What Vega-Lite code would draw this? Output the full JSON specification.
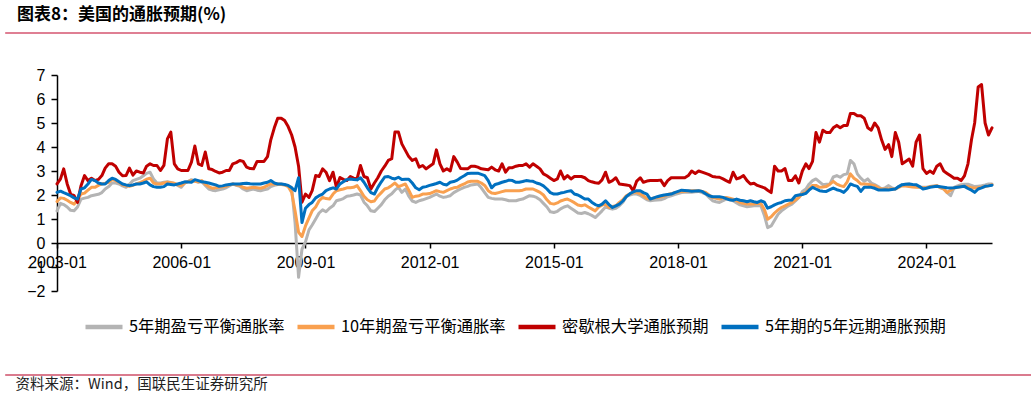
{
"$schema":"https://vega.github.io/schema/vega-lite/v6.json",
"width":935,"height":216,
"autosize":{"type":"none"},
"padding":{"left":57,"top":75,"right":39,"bottom":107},
"background":"white",
"title":{"text":"图表8：美国的通胀预期(%)","anchor":"start","frame":"group","dx":-40,"offset":8,"font":"Noto Sans CJK SC","fontSize":17,"fontWeight":"bold","color":"#000"},
"config":{"view":{"stroke":null},"axis":{"labelFont":"Liberation Sans"}},
"data":{"values":[
{"d":"2003-01","g":1.34,"o":1.73,"r":2.46,"b":2.11},{"d":"2003-02","g":1.65,"o":1.88,"r":2.67,"b":2.16},{"d":"2003-03","g":1.6,"o":1.86,"r":3.09,"b":2.1},{"d":"2003-04","g":1.5,"o":1.78,"r":2.46,"b":2.04},{"d":"2003-05","g":1.36,"o":1.69,"r":2.04,"b":1.97},{"d":"2003-06","g":1.34,"o":1.62,"r":1.97,"b":1.88},{"d":"2003-07","g":1.5,"o":1.8,"r":1.69,"b":1.83},{"d":"2003-08","g":1.83,"o":2.04,"r":2.39,"b":2.25},{"d":"2003-09","g":1.87,"o":2.08,"r":2.81,"b":2.3},{"d":"2003-10","g":1.9,"o":2.2,"r":2.6,"b":2.46},{"d":"2003-11","g":1.97,"o":2.32,"r":2.7,"b":2.65},{"d":"2003-12","g":2.0,"o":2.32,"r":2.6,"b":2.6},
{"d":"2004-01","g":2.03,"o":2.4,"r":2.65,"b":2.5},{"d":"2004-02","g":2.1,"o":2.46,"r":2.81,"b":2.46},{"d":"2004-03","g":2.25,"o":2.49,"r":3.12,"b":2.46},{"d":"2004-04","g":2.35,"o":2.53,"r":3.3,"b":2.6},{"d":"2004-05","g":2.5,"o":2.65,"r":3.3,"b":2.7},{"d":"2004-06","g":2.5,"o":2.6,"r":3.2,"b":2.65},{"d":"2004-07","g":2.46,"o":2.53,"r":2.95,"b":2.55},{"d":"2004-08","g":2.38,"o":2.42,"r":2.8,"b":2.46},{"d":"2004-09","g":2.32,"o":2.38,"r":2.81,"b":2.42},{"d":"2004-10","g":2.45,"o":2.36,"r":3.12,"b":2.39},{"d":"2004-11","g":2.6,"o":2.4,"r":2.83,"b":2.42},{"d":"2004-12","g":2.65,"o":2.46,"r":3.0,"b":2.46},
{"d":"2005-01","g":2.7,"o":2.52,"r":2.95,"b":2.46},{"d":"2005-02","g":2.8,"o":2.58,"r":2.92,"b":2.5},{"d":"2005-03","g":2.9,"o":2.66,"r":3.2,"b":2.55},{"d":"2005-04","g":2.95,"o":2.7,"r":3.3,"b":2.42},{"d":"2005-05","g":2.67,"o":2.5,"r":3.23,"b":2.35},{"d":"2005-06","g":2.5,"o":2.46,"r":3.23,"b":2.32},{"d":"2005-07","g":2.5,"o":2.46,"r":3.02,"b":2.32},{"d":"2005-08","g":2.53,"o":2.5,"r":3.23,"b":2.35},{"d":"2005-09","g":2.55,"o":2.53,"r":4.34,"b":2.46},{"d":"2005-10","g":2.52,"o":2.51,"r":4.62,"b":2.44},{"d":"2005-11","g":2.48,"o":2.49,"r":3.3,"b":2.42},{"d":"2005-12","g":2.4,"o":2.42,"r":3.09,"b":2.46},
{"d":"2006-01","g":2.32,"o":2.39,"r":3.02,"b":2.5},{"d":"2006-02","g":2.5,"o":2.5,"r":3.02,"b":2.55},{"d":"2006-03","g":2.56,"o":2.56,"r":3.02,"b":2.54},{"d":"2006-04","g":2.64,"o":2.6,"r":3.37,"b":2.53},{"d":"2006-05","g":2.58,"o":2.57,"r":4.04,"b":2.64},{"d":"2006-06","g":2.53,"o":2.55,"r":3.3,"b":2.6},{"d":"2006-07","g":2.55,"o":2.6,"r":3.23,"b":2.55},{"d":"2006-08","g":2.4,"o":2.45,"r":3.79,"b":2.53},{"d":"2006-09","g":2.25,"o":2.35,"r":3.09,"b":2.5},{"d":"2006-10","g":2.2,"o":2.28,"r":3.06,"b":2.46},{"d":"2006-11","g":2.18,"o":2.3,"r":2.98,"b":2.42},{"d":"2006-12","g":2.22,"o":2.32,"r":2.92,"b":2.36},
{"d":"2007-01","g":2.25,"o":2.34,"r":2.95,"b":2.38},{"d":"2007-02","g":2.3,"o":2.36,"r":3.02,"b":2.42},{"d":"2007-03","g":2.38,"o":2.42,"r":3.02,"b":2.44},{"d":"2007-04","g":2.46,"o":2.46,"r":3.3,"b":2.46},{"d":"2007-05","g":2.4,"o":2.42,"r":3.35,"b":2.46},{"d":"2007-06","g":2.36,"o":2.39,"r":3.44,"b":2.46},{"d":"2007-07","g":2.25,"o":2.32,"r":3.4,"b":2.48},{"d":"2007-08","g":2.18,"o":2.28,"r":3.16,"b":2.49},{"d":"2007-09","g":2.22,"o":2.3,"r":3.1,"b":2.47},{"d":"2007-10","g":2.25,"o":2.32,"r":3.09,"b":2.46},{"d":"2007-11","g":2.2,"o":2.3,"r":3.4,"b":2.46},{"d":"2007-12","g":2.18,"o":2.28,"r":3.4,"b":2.46},
{"d":"2008-01","g":2.22,"o":2.32,"r":3.4,"b":2.5},{"d":"2008-02","g":2.25,"o":2.4,"r":3.6,"b":2.53},{"d":"2008-03","g":2.35,"o":2.46,"r":4.3,"b":2.6},{"d":"2008-04","g":2.4,"o":2.46,"r":4.8,"b":2.5},{"d":"2008-05","g":2.44,"o":2.46,"r":5.2,"b":2.46},{"d":"2008-06","g":2.46,"o":2.44,"r":5.2,"b":2.46},{"d":"2008-07","g":2.42,"o":2.42,"r":5.1,"b":2.44},{"d":"2008-08","g":2.38,"o":2.35,"r":4.85,"b":2.4},{"d":"2008-09","g":2.32,"o":2.1,"r":4.5,"b":2.3},{"d":"2008-10","g":0.85,"o":1.34,"r":4.0,"b":2.18},{"d":"2008-11","g":-1.43,"o":0.45,"r":3.2,"b":2.72},{"d":"2008-12","g":-0.26,"o":0.27,"r":1.7,"b":0.85},
{"d":"2009-01","g":0.05,"o":0.71,"r":2.04,"b":1.45},{"d":"2009-02","g":0.55,"o":1.05,"r":1.9,"b":1.6},{"d":"2009-03","g":0.75,"o":1.34,"r":2.18,"b":1.69},{"d":"2009-04","g":1.0,"o":1.5,"r":2.81,"b":1.88},{"d":"2009-05","g":1.25,"o":1.76,"r":2.77,"b":1.97},{"d":"2009-06","g":1.38,"o":1.9,"r":3.09,"b":2.04},{"d":"2009-07","g":1.3,"o":1.85,"r":2.95,"b":2.18},{"d":"2009-08","g":1.45,"o":1.83,"r":2.6,"b":2.25},{"d":"2009-09","g":1.55,"o":2.04,"r":2.95,"b":2.3},{"d":"2009-10","g":1.76,"o":2.18,"r":2.32,"b":2.25},{"d":"2009-11","g":1.8,"o":2.22,"r":2.73,"b":2.46},{"d":"2009-12","g":1.85,"o":2.25,"r":2.65,"b":2.55},
{"d":"2010-01","g":1.95,"o":2.3,"r":2.6,"b":2.64},{"d":"2010-02","g":1.97,"o":2.3,"r":2.77,"b":2.67},{"d":"2010-03","g":2.0,"o":2.32,"r":2.7,"b":2.65},{"d":"2010-04","g":2.04,"o":2.39,"r":2.67,"b":2.63},{"d":"2010-05","g":2.0,"o":2.18,"r":3.23,"b":2.72},{"d":"2010-06","g":1.7,"o":1.95,"r":2.77,"b":2.53},{"d":"2010-07","g":1.55,"o":1.8,"r":2.72,"b":2.3},{"d":"2010-08","g":1.34,"o":1.72,"r":2.25,"b":2.1},{"d":"2010-09","g":1.31,"o":1.75,"r":2.5,"b":2.04},{"d":"2010-10","g":1.45,"o":1.95,"r":2.72,"b":2.32},{"d":"2010-11","g":1.6,"o":2.1,"r":3.0,"b":2.55},{"d":"2010-12","g":1.8,"o":2.25,"r":3.2,"b":2.75},
{"d":"2011-01","g":1.95,"o":2.3,"r":3.44,"b":2.77},{"d":"2011-02","g":2.05,"o":2.4,"r":3.51,"b":2.7},{"d":"2011-03","g":2.2,"o":2.5,"r":4.62,"b":2.67},{"d":"2011-04","g":2.32,"o":2.35,"r":4.62,"b":2.74},{"d":"2011-05","g":2.11,"o":2.4,"r":4.13,"b":2.65},{"d":"2011-06","g":2.25,"o":2.46,"r":3.86,"b":2.66},{"d":"2011-07","g":1.95,"o":2.2,"r":3.6,"b":2.66},{"d":"2011-08","g":1.75,"o":1.9,"r":3.44,"b":2.5},{"d":"2011-09","g":1.69,"o":1.95,"r":3.51,"b":2.3},{"d":"2011-10","g":1.76,"o":1.97,"r":3.16,"b":2.22},{"d":"2011-11","g":1.8,"o":2.04,"r":3.23,"b":2.32},{"d":"2011-12","g":1.85,"o":2.04,"r":3.09,"b":2.35},
{"d":"2012-01","g":1.9,"o":2.06,"r":3.2,"b":2.4},{"d":"2012-02","g":1.97,"o":2.12,"r":3.3,"b":2.44},{"d":"2012-03","g":2.04,"o":2.18,"r":3.88,"b":2.48},{"d":"2012-04","g":1.95,"o":2.14,"r":3.3,"b":2.53},{"d":"2012-05","g":1.9,"o":2.11,"r":3.0,"b":2.45},{"d":"2012-06","g":1.93,"o":2.18,"r":3.09,"b":2.42},{"d":"2012-07","g":1.97,"o":2.25,"r":3.0,"b":2.53},{"d":"2012-08","g":2.1,"o":2.3,"r":3.6,"b":2.56},{"d":"2012-09","g":2.18,"o":2.32,"r":3.37,"b":2.62},{"d":"2012-10","g":2.25,"o":2.4,"r":3.1,"b":2.72},{"d":"2012-11","g":2.32,"o":2.46,"r":3.09,"b":2.8},{"d":"2012-12","g":2.36,"o":2.54,"r":3.09,"b":2.9},
{"d":"2013-01","g":2.42,"o":2.57,"r":3.2,"b":2.91},{"d":"2013-02","g":2.44,"o":2.57,"r":3.2,"b":2.91},{"d":"2013-03","g":2.46,"o":2.57,"r":3.16,"b":2.91},{"d":"2013-04","g":2.3,"o":2.5,"r":3.09,"b":2.86},{"d":"2013-05","g":2.1,"o":2.4,"r":3.07,"b":2.81},{"d":"2013-06","g":1.9,"o":2.18,"r":3.05,"b":2.6},{"d":"2013-07","g":1.86,"o":2.08,"r":3.16,"b":2.3},{"d":"2013-08","g":1.83,"o":2.06,"r":3.05,"b":2.44},{"d":"2013-09","g":1.83,"o":2.1,"r":3.0,"b":2.48},{"d":"2013-10","g":1.83,"o":2.14,"r":3.3,"b":2.53},{"d":"2013-11","g":1.8,"o":2.18,"r":2.95,"b":2.57},{"d":"2013-12","g":1.76,"o":2.18,"r":3.14,"b":2.62},
{"d":"2014-01","g":1.76,"o":2.18,"r":3.14,"b":2.6},{"d":"2014-02","g":1.76,"o":2.18,"r":3.2,"b":2.53},{"d":"2014-03","g":1.8,"o":2.18,"r":3.23,"b":2.53},{"d":"2014-04","g":1.83,"o":2.2,"r":3.23,"b":2.56},{"d":"2014-05","g":1.9,"o":2.25,"r":3.3,"b":2.6},{"d":"2014-06","g":1.97,"o":2.25,"r":3.16,"b":2.58},{"d":"2014-07","g":1.95,"o":2.25,"r":3.3,"b":2.57},{"d":"2014-08","g":1.9,"o":2.18,"r":3.2,"b":2.5},{"d":"2014-09","g":1.8,"o":2.11,"r":3.09,"b":2.46},{"d":"2014-10","g":1.65,"o":2.0,"r":2.88,"b":2.38},{"d":"2014-11","g":1.5,"o":1.8,"r":2.8,"b":2.25},{"d":"2014-12","g":1.3,"o":1.65,"r":2.7,"b":2.1},
{"d":"2015-01","g":1.27,"o":1.62,"r":2.6,"b":2.04},{"d":"2015-02","g":1.32,"o":1.67,"r":2.67,"b":2.04},{"d":"2015-03","g":1.42,"o":1.75,"r":3.0,"b":2.08},{"d":"2015-04","g":1.5,"o":1.8,"r":2.67,"b":2.11},{"d":"2015-05","g":1.55,"o":1.83,"r":2.81,"b":2.15},{"d":"2015-06","g":1.45,"o":1.76,"r":2.67,"b":2.18},{"d":"2015-07","g":1.35,"o":1.68,"r":2.77,"b":2.04},{"d":"2015-08","g":1.25,"o":1.58,"r":2.77,"b":2.0},{"d":"2015-09","g":1.23,"o":1.55,"r":2.77,"b":1.92},{"d":"2015-10","g":1.27,"o":1.59,"r":2.72,"b":1.83},{"d":"2015-11","g":1.22,"o":1.5,"r":2.6,"b":1.83},{"d":"2015-12","g":1.15,"o":1.42,"r":2.55,"b":1.7},
{"d":"2016-01","g":1.06,"o":1.34,"r":2.51,"b":1.6},{"d":"2016-02","g":1.2,"o":1.5,"r":2.49,"b":1.55},{"d":"2016-03","g":1.34,"o":1.58,"r":2.63,"b":1.62},{"d":"2016-04","g":1.5,"o":1.62,"r":2.95,"b":1.76},{"d":"2016-05","g":1.45,"o":1.48,"r":2.53,"b":1.6},{"d":"2016-06","g":1.41,"o":1.52,"r":2.6,"b":1.48},{"d":"2016-07","g":1.45,"o":1.55,"r":2.72,"b":1.55},{"d":"2016-08","g":1.55,"o":1.69,"r":2.46,"b":1.62},{"d":"2016-09","g":1.7,"o":1.8,"r":2.44,"b":1.75},{"d":"2016-10","g":1.93,"o":1.97,"r":2.42,"b":1.93},{"d":"2016-11","g":2.0,"o":2.05,"r":2.39,"b":2.05},{"d":"2016-12","g":2.04,"o":2.11,"r":2.18,"b":2.13},
{"d":"2017-01","g":2.04,"o":2.11,"r":2.58,"b":2.18},{"d":"2017-02","g":1.98,"o":2.05,"r":2.72,"b":2.18},{"d":"2017-03","g":1.9,"o":1.97,"r":2.53,"b":2.1},{"d":"2017-04","g":1.8,"o":1.85,"r":2.58,"b":2.04},{"d":"2017-05","g":1.76,"o":1.83,"r":2.6,"b":1.83},{"d":"2017-06","g":1.78,"o":1.88,"r":2.6,"b":1.88},{"d":"2017-07","g":1.79,"o":1.9,"r":2.6,"b":1.93},{"d":"2017-08","g":1.8,"o":1.92,"r":2.62,"b":1.97},{"d":"2017-09","g":1.85,"o":1.96,"r":2.39,"b":2.0},{"d":"2017-10","g":1.93,"o":2.02,"r":2.6,"b":2.02},{"d":"2017-11","g":1.97,"o":2.05,"r":2.72,"b":2.04},{"d":"2017-12","g":2.02,"o":2.1,"r":2.72,"b":2.1},
{"d":"2018-01","g":2.06,"o":2.12,"r":2.72,"b":2.15},{"d":"2018-02","g":2.1,"o":2.15,"r":2.72,"b":2.2},{"d":"2018-03","g":2.11,"o":2.16,"r":2.72,"b":2.19},{"d":"2018-04","g":2.11,"o":2.17,"r":2.81,"b":2.18},{"d":"2018-05","g":2.11,"o":2.18,"r":3.0,"b":2.16},{"d":"2018-06","g":2.13,"o":2.18,"r":2.9,"b":2.17},{"d":"2018-07","g":2.15,"o":2.18,"r":3.0,"b":2.18},{"d":"2018-08","g":2.1,"o":2.15,"r":2.95,"b":2.15},{"d":"2018-09","g":2.04,"o":2.11,"r":2.9,"b":2.05},{"d":"2018-10","g":1.9,"o":2.0,"r":2.85,"b":1.97},{"d":"2018-11","g":1.76,"o":1.9,"r":2.77,"b":1.93},{"d":"2018-12","g":1.72,"o":1.86,"r":2.75,"b":1.93},
{"d":"2019-01","g":1.69,"o":1.83,"r":2.74,"b":1.93},{"d":"2019-02","g":1.76,"o":1.87,"r":2.67,"b":1.9},{"d":"2019-03","g":1.83,"o":1.9,"r":2.6,"b":1.85},{"d":"2019-04","g":1.8,"o":1.87,"r":2.53,"b":1.8},{"d":"2019-05","g":1.76,"o":1.83,"r":2.95,"b":1.78},{"d":"2019-06","g":1.67,"o":1.76,"r":2.67,"b":1.83},{"d":"2019-07","g":1.59,"o":1.69,"r":2.72,"b":1.78},{"d":"2019-08","g":1.55,"o":1.65,"r":2.81,"b":1.76},{"d":"2019-09","g":1.51,"o":1.62,"r":2.6,"b":1.72},{"d":"2019-10","g":1.53,"o":1.62,"r":2.46,"b":1.76},{"d":"2019-11","g":1.55,"o":1.62,"r":2.49,"b":1.72},{"d":"2019-12","g":1.55,"o":1.65,"r":2.4,"b":1.69},
{"d":"2020-01","g":1.55,"o":1.65,"r":2.35,"b":1.76},{"d":"2020-02","g":1.15,"o":1.4,"r":2.3,"b":1.7},{"d":"2020-03","g":0.64,"o":0.99,"r":2.2,"b":1.45},{"d":"2020-04","g":0.71,"o":1.09,"r":2.1,"b":1.51},{"d":"2020-05","g":0.95,"o":1.25,"r":3.2,"b":1.59},{"d":"2020-06","g":1.2,"o":1.38,"r":3.0,"b":1.65},{"d":"2020-07","g":1.34,"o":1.48,"r":3.0,"b":1.69},{"d":"2020-08","g":1.45,"o":1.55,"r":3.1,"b":1.76},{"d":"2020-09","g":1.55,"o":1.62,"r":2.6,"b":1.78},{"d":"2020-10","g":1.62,"o":1.69,"r":2.6,"b":1.79},{"d":"2020-11","g":1.75,"o":1.8,"r":2.8,"b":1.97},{"d":"2020-12","g":1.9,"o":1.9,"r":2.5,"b":2.0},
{"d":"2021-01","g":2.15,"o":2.06,"r":3.0,"b":2.02},{"d":"2021-02","g":2.25,"o":2.11,"r":3.3,"b":2.07},{"d":"2021-03","g":2.45,"o":2.25,"r":3.1,"b":2.2},{"d":"2021-04","g":2.6,"o":2.4,"r":3.4,"b":2.32},{"d":"2021-05","g":2.67,"o":2.4,"r":4.6,"b":2.25},{"d":"2021-06","g":2.55,"o":2.32,"r":4.2,"b":2.18},{"d":"2021-07","g":2.43,"o":2.33,"r":4.7,"b":2.16},{"d":"2021-08","g":2.45,"o":2.35,"r":4.6,"b":2.15},{"d":"2021-09","g":2.46,"o":2.45,"r":4.6,"b":2.22},{"d":"2021-10","g":2.75,"o":2.57,"r":4.8,"b":2.29},{"d":"2021-11","g":2.81,"o":2.45,"r":4.9,"b":2.22},{"d":"2021-12","g":2.74,"o":2.39,"r":4.8,"b":2.18},
{"d":"2022-01","g":2.85,"o":2.35,"r":4.9,"b":2.11},{"d":"2022-02","g":2.88,"o":2.55,"r":4.9,"b":2.25},{"d":"2022-03","g":3.44,"o":2.88,"r":5.4,"b":2.46},{"d":"2022-04","g":3.3,"o":2.7,"r":5.4,"b":2.4},{"d":"2022-05","g":2.88,"o":2.6,"r":5.3,"b":2.36},{"d":"2022-06","g":2.7,"o":2.46,"r":5.3,"b":2.15},{"d":"2022-07","g":2.57,"o":2.46,"r":5.2,"b":2.32},{"d":"2022-08","g":2.67,"o":2.45,"r":4.8,"b":2.32},{"d":"2022-09","g":2.5,"o":2.42,"r":4.7,"b":2.32},{"d":"2022-10","g":2.43,"o":2.39,"r":5.0,"b":2.28},{"d":"2022-11","g":2.35,"o":2.3,"r":4.8,"b":2.21},{"d":"2022-12","g":2.25,"o":2.25,"r":4.3,"b":2.21},
{"d":"2023-01","g":2.3,"o":2.25,"r":3.9,"b":2.22},{"d":"2023-02","g":2.39,"o":2.25,"r":4.1,"b":2.21},{"d":"2023-03","g":2.3,"o":2.25,"r":3.6,"b":2.23},{"d":"2023-04","g":2.25,"o":2.25,"r":4.6,"b":2.25},{"d":"2023-05","g":2.35,"o":2.32,"r":4.2,"b":2.35},{"d":"2023-06","g":2.43,"o":2.39,"r":3.3,"b":2.43},{"d":"2023-07","g":2.45,"o":2.37,"r":3.4,"b":2.45},{"d":"2023-08","g":2.46,"o":2.35,"r":3.5,"b":2.46},{"d":"2023-09","g":2.4,"o":2.33,"r":3.2,"b":2.44},{"d":"2023-10","g":2.35,"o":2.32,"r":4.2,"b":2.43},{"d":"2023-11","g":2.33,"o":2.32,"r":4.5,"b":2.35},{"d":"2023-12","g":2.32,"o":2.3,"r":3.1,"b":2.25},
{"d":"2024-01","g":2.32,"o":2.3,"r":2.9,"b":2.28},{"d":"2024-02","g":2.35,"o":2.35,"r":3.0,"b":2.32},{"d":"2024-03","g":2.37,"o":2.37,"r":2.9,"b":2.34},{"d":"2024-04","g":2.39,"o":2.39,"r":3.2,"b":2.36},{"d":"2024-05","g":2.3,"o":2.32,"r":3.3,"b":2.34},{"d":"2024-06","g":2.25,"o":2.25,"r":3.0,"b":2.32},{"d":"2024-07","g":2.1,"o":2.11,"r":2.9,"b":2.3},{"d":"2024-08","g":1.97,"o":2.2,"r":2.8,"b":2.29},{"d":"2024-09","g":2.32,"o":2.29,"r":2.7,"b":2.3},{"d":"2024-10","g":2.38,"o":2.32,"r":2.7,"b":2.32},{"d":"2024-11","g":2.43,"o":2.35,"r":2.6,"b":2.34},{"d":"2024-12","g":2.45,"o":2.35,"r":2.8,"b":2.36},
{"d":"2025-01","g":2.45,"o":2.35,"r":3.3,"b":2.27},{"d":"2025-02","g":2.4,"o":2.3,"r":4.3,"b":2.2},{"d":"2025-03","g":2.35,"o":2.29,"r":5.0,"b":2.11},{"d":"2025-04","g":2.37,"o":2.3,"r":6.5,"b":2.25},{"d":"2025-05","g":2.39,"o":2.32,"r":6.6,"b":2.3},{"d":"2025-06","g":2.42,"o":2.35,"r":5.0,"b":2.36},{"d":"2025-07","g":2.46,"o":2.38,"r":4.5,"b":2.38},{"d":"2025-08","g":2.46,"o":2.43,"r":4.8,"b":2.41}
]},
"layer":[
{"mark":{"type":"line","strokeWidth":3,"strokeJoin":"round","strokeCap":"round"},
 "encoding":{
  "x":{"field":"d","type":"temporal","scale":{"type":"utc","domain":[{"year":2003,"month":1,"date":1,"utc":true},{"year":2025,"month":8,"date":1,"utc":true}]},
   "axis":{"title":null,"grid":false,"offset":-48,"values":[{"year":2003,"month":1,"date":1,"utc":true},{"year":2006,"month":1,"date":1,"utc":true},{"year":2009,"month":1,"date":1,"utc":true},{"year":2012,"month":1,"date":1,"utc":true},{"year":2015,"month":1,"date":1,"utc":true},{"year":2018,"month":1,"date":1,"utc":true},{"year":2021,"month":1,"date":1,"utc":true},{"year":2024,"month":1,"date":1,"utc":true}],
    "format":"%Y-%m","labelFontSize":16,"labelColor":"#000","labelFlush":false,"labelBound":false,"labelOverlap":false,"domainColor":"#000","domainWidth":1.5,"tickColor":"#000","tickWidth":1.5,"tickSize":5,"labelPadding":6}},
  "y":{"field":"g","type":"quantitative","scale":{"domain":[-2,7],"nice":false,"zero":false},
   "axis":{"title":null,"grid":false,"values":[-2,-1,0,1,2,3,4,5,6,7],"tickCount":10,"format":"d","labelOverlap":false,"labelFlush":false,"labelBound":false,"labelFontSize":16,"labelColor":"#000","domainColor":"#000","domainWidth":1.5,"tickColor":"#000","tickWidth":1.5,"tickSize":6,"labelPadding":6}},
  "color":{"datum":"5年期盈亏平衡通胀率","type":"nominal",
   "scale":{"domain":["5年期盈亏平衡通胀率","10年期盈亏平衡通胀率","密歇根大学通胀预期","5年期的5年远期通胀预期"],"range":["#B4B4B4","#F9A04F","#C00000","#0070C0"]},
   "legend":{"orient":"none","legendX":26,"legendY":231,"direction":"horizontal","title":null,"symbolType":"stroke","symbolSize":1369,"symbolStrokeWidth":4.5,"labelFontSize":16.3,"labelFont":"Noto Sans CJK SC","labelColor":"#000","labelOffset":4,"columnPadding":3,"labelLimit":300,"padding":0}}}},
{"mark":{"type":"line","strokeWidth":3,"strokeJoin":"round","strokeCap":"round"},
 "encoding":{"x":{"field":"d","type":"temporal"},"y":{"field":"o","type":"quantitative","axis":{"title":null,"grid":false,"values":[-2,-1,0,1,2,3,4,5,6,7],"tickCount":10,"format":"d","labelOverlap":false,"labelFlush":false,"labelBound":false,"labelFontSize":16,"labelColor":"#000","domainColor":"#000","domainWidth":1.5,"tickColor":"#000","tickWidth":1.5,"tickSize":6,"labelPadding":6}},"color":{"datum":"10年期盈亏平衡通胀率","type":"nominal"}}},
{"mark":{"type":"line","strokeWidth":3,"strokeJoin":"round","strokeCap":"round"},
 "encoding":{"x":{"field":"d","type":"temporal"},"y":{"field":"r","type":"quantitative","axis":{"title":null,"grid":false,"values":[-2,-1,0,1,2,3,4,5,6,7],"tickCount":10,"format":"d","labelOverlap":false,"labelFlush":false,"labelBound":false,"labelFontSize":16,"labelColor":"#000","domainColor":"#000","domainWidth":1.5,"tickColor":"#000","tickWidth":1.5,"tickSize":6,"labelPadding":6}},"color":{"datum":"密歇根大学通胀预期","type":"nominal"}}},
{"mark":{"type":"line","strokeWidth":3,"strokeJoin":"round","strokeCap":"round"},
 "encoding":{"x":{"field":"d","type":"temporal"},"y":{"field":"b","type":"quantitative","axis":{"title":null,"grid":false,"values":[-2,-1,0,1,2,3,4,5,6,7],"tickCount":10,"format":"d","labelOverlap":false,"labelFlush":false,"labelBound":false,"labelFontSize":16,"labelColor":"#000","domainColor":"#000","domainWidth":1.5,"tickColor":"#000","tickWidth":1.5,"tickSize":6,"labelPadding":6}},"color":{"datum":"5年期的5年远期通胀预期","type":"nominal"}}},
{"data":{"values":[{}]},"mark":{"type":"rule","color":"#D4546F","strokeWidth":1.5},
 "encoding":{"x":{"datum":{"year":2001,"month":10,"date":1,"utc":true},"type":"temporal"},"x2":{"datum":{"year":2026,"month":8,"date":1,"utc":true}},"y":{"datum":8.75,"type":"quantitative"}}},
{"data":{"values":[{}]},"mark":{"type":"rule","color":"#DA7B8E","strokeWidth":2},
 "encoding":{"x":{"datum":{"year":2001,"month":10,"date":1,"utc":true},"type":"temporal"},"x2":{"datum":{"year":2026,"month":8,"date":1,"utc":true}},"y":{"datum":-5.5,"type":"quantitative"}}},
{"data":{"values":[{}]},"mark":{"type":"text","align":"left","baseline":"middle","font":"Noto Sans CJK SC","fontSize":14.5,"color":"#222"},
 "encoding":{"x":{"datum":{"year":2002,"month":1,"date":1,"utc":true},"type":"temporal"},"y":{"datum":-5.92,"type":"quantitative"},"text":{"value":"资料来源：Wind，国联民生证券研究所"}}}
]
}
